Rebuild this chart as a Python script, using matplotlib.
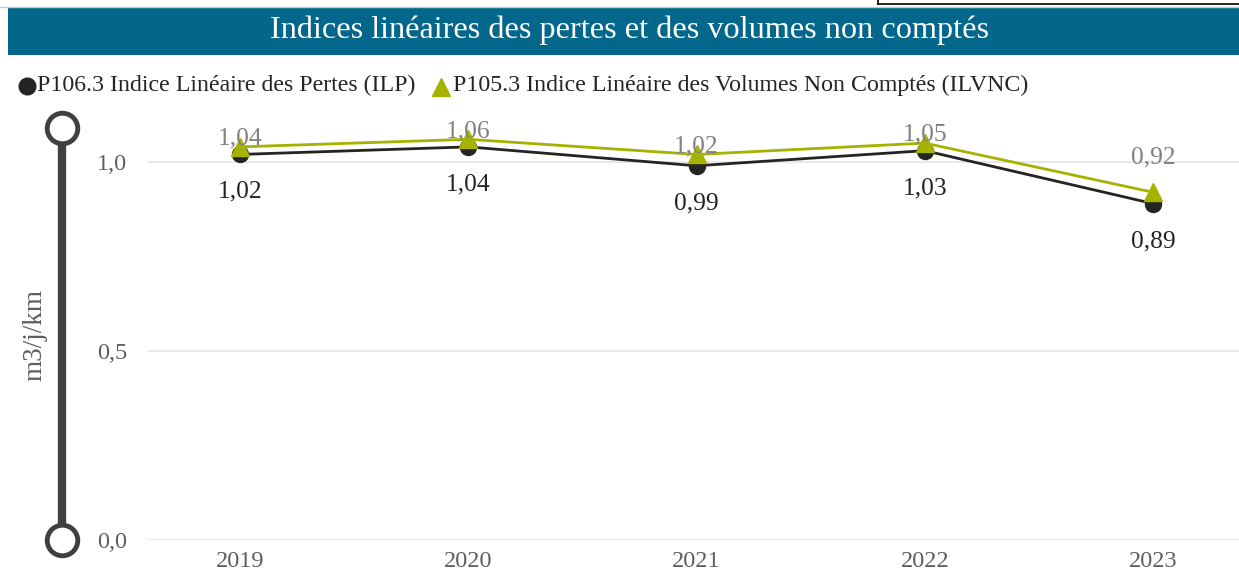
import matplotlib
matplotlib.use("Agg")
import matplotlib.pyplot as plt
from matplotlib.patches import Rectangle
from matplotlib.lines import Line2D

years = ["2019", "2020", "2021", "2022", "2023"]
ilp = [1.02, 1.04, 0.99, 1.03, 0.89]
ilvnc = [1.04, 1.06, 1.02, 1.05, 0.92]
ilp_name = "P106.3 Indice Linéaire des Pertes (ILP)"
ilvnc_name = "P105.3 Indice Linéaire des Volumes Non Comptés (ILVNC)"
title = "Indices linéaires des pertes et des volumes non comptés"
yticks = [0.0, 0.5, 1.0]

W, H = 1239, 574
plt.rcParams['font.family'] = ['Liberation Serif', 'DejaVu Serif']
fig = plt.figure(figsize=(W / 100, H / 100), dpi=100)

def fx(px):
    return px / W

def fy(py):
    return 1 - py / H

# title band
fig.patches.append(Rectangle((fx(8), fy(55)), fx(1239 - 8), (55 - 8) / H,
                             transform=fig.transFigure, facecolor="#03668B",
                             edgecolor="none", zorder=0))
fig.lines.append(Line2D([fx(0), 1], [fy(7), fy(7)], transform=fig.transFigure,
                        color="#C8C8C8", lw=1))
# top-right box remnant
fig.lines.append(Line2D([fx(878), 1], [fy(4), fy(4)], transform=fig.transFigure,
                        color="#000000", lw=1.2))
fig.lines.append(Line2D([fx(878), fx(878)], [fy(4), 1], transform=fig.transFigure,
                        color="#000000", lw=1.2))
fig.text(fx(630), fy(30), title, color="white", fontsize=23.2, ha="center", va="center")

# legend
fig.lines.append(Line2D([fx(27)], [fy(86)], transform=fig.transFigure, marker="o",
                        markersize=12, color="#252423", linestyle="none"))
fig.text(fx(37), fy(85), ilp_name, fontsize=17.2, color="#252423", va="center", ha="left")
fig.lines.append(Line2D([fx(441)], [fy(87)], transform=fig.transFigure, marker="^",
                        markersize=13, color="#A5B300", linestyle="none"))
fig.text(fx(453), fy(85), ilvnc_name, fontsize=17.2, color="#252423", va="center", ha="left")

# slider decoration
fig.lines.append(Line2D([fx(62), fx(62)], [fy(130), fy(540)], transform=fig.transFigure,
                        color="#404040", lw=6, solid_capstyle="butt", zorder=1))
for yy in (128, 540):
    fig.lines.append(Line2D([fx(62)], [fy(yy)], transform=fig.transFigure, marker="o",
                            markersize=22, markerfacecolor="white",
                            markeredgecolor="#404040", markeredgewidth=3.5,
                            linestyle="none", zorder=2))
fig.text(fx(35), fy(335), "m3/j/km", rotation=90, fontsize=19.5, color="#605E5C",
         ha="center", va="center")

# axes
ax_left, ax_right, ax_top, ax_bot = 148, 1239, 110, 540
ax = fig.add_axes([fx(ax_left), fy(ax_bot), (ax_right - ax_left) / W, (ax_bot - ax_top) / H])
x = list(range(len(years)))
px_per = 228.25
ax.set_xlim(-(240 - ax_left) / px_per, 4 + (ax_right - 1153) / px_per)
ax.set_ylim(0, (ax_bot - ax_top) / 378)
for s in ax.spines.values():
    s.set_visible(False)
ax.set_yticks(yticks)
ax.set_yticklabels([f"{v:.1f}".replace(".", ",") for v in yticks])
ax.set_xticks(x)
ax.set_xticklabels(years)
ax.tick_params(length=0, labelsize=17.5, labelcolor="#605E5C")
ax.tick_params(axis="y", pad=15)
ax.tick_params(axis="x", pad=8)
ax.grid(axis="y", color="#E6E6E6", lw=1.3)
ax.set_axisbelow(True)

ax.plot(x, ilp, color="#252423", lw=2, marker="o", markersize=11.5, zorder=3)
ax.plot(x, ilvnc, color="#A5B300", lw=2, marker="^", markersize=13, zorder=4)

for xi, v in zip(x, ilp):
    ax.annotate(f"{v:.2f}".replace(".", ","), (xi, v), xytext=(0, -27),
                textcoords="offset points", ha="center", va="center",
                fontsize=18.4, color="#252423")
for xi, v in zip(x, ilvnc):
    ax.annotate(f"{v:.2f}".replace(".", ","), (xi, v), xytext=(0, 6 if xi < 4 else 25),
                textcoords="offset points", ha="center", va="center",
                fontsize=18.4, color="#808080", zorder=5)

fig.savefig("out.png", dpi=100)
